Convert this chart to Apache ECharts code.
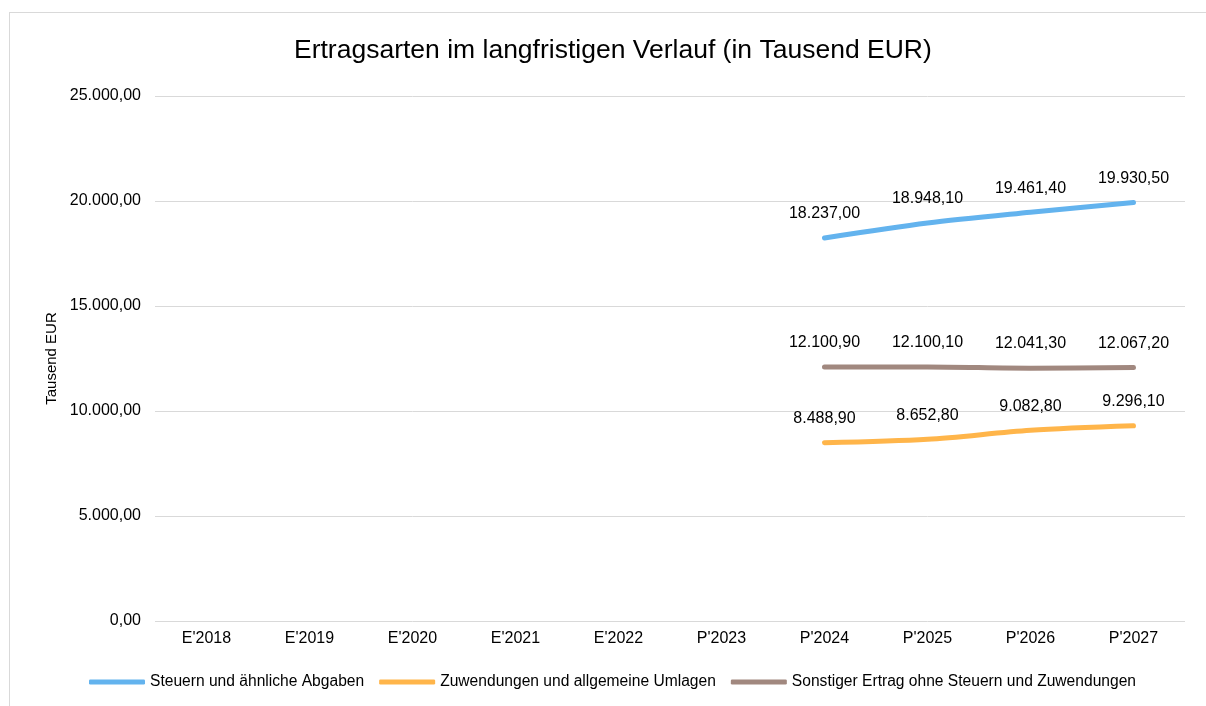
<!DOCTYPE html>
<html>
<head>
<meta charset="UTF-8">
<script type="text/javascript" src="https://cdn.jsdelivr.net/npm/echarts@6/dist/echarts.min.js"></script>
<title>Ertragsarten</title>
<style>
	body { margin:0; background:#fff; }
	#frame { position:absolute; left:9px; top:12px; width:1200px; height:700px; border:1px solid #d9d9d9; box-sizing:border-box; }
	#main { position:absolute; left:0; top:0; width:1206px; height:706px; }
</style>
</head>
<body>
	<div id="frame"></div>
	<div id="main"></div>
	<script type="text/javascript">
		var years = ["E'2018","E'2019","E'2020","E'2021","E'2022","P'2023","P'2024","P'2025","P'2026","P'2027"];
		var steuern = [null,null,null,null,null,null,18237.0,18948.1,19461.4,19930.5];
		var zuwendungen = [null,null,null,null,null,null,8488.9,8652.8,9082.8,9296.1];
		var sonstiger = [null,null,null,null,null,null,12100.9,12100.1,12041.3,12067.2];
		var names = ['Steuern und ähnliche Abgaben','Zuwendungen und allgemeine Umlagen','Sonstiger Ertrag ohne Steuern und Zuwendungen'];
		var colors = ['#63b3ee','#ffb54a','#a1887f'];

		// deutsches Zahlenformat 12.345,60
		function fmt(v) {
			var s = Math.abs(v).toFixed(2).split('.');
			var intPart = s[0].replace(/\B(?=(\d{3})+(?!\d))/g, '.');
			return (v < 0 ? '-' : '') + intPart + ',' + s[1];
		}

		var myChart = echarts.init(document.getElementById('main'));

		function line(name, data, color) {
			return {
				name: name,
				type: 'line',
				data: data,
				symbol: 'circle',
				symbolSize: 0.1,
				showSymbol: true,
				smooth: 0.3,
				lineStyle: { width: 5, color: color, cap: 'round' },
				itemStyle: { color: color },
				label: {
					show: true,
					position: 'top',
					distance: 16,
					color: '#000',
					fontSize: 16,
					fontFamily: 'Liberation Sans, Arial',
					formatter: function (p) { return fmt(p.value); }
				}
			};
		}

		var option = {
			animation: false,
			textStyle: { fontFamily: 'Liberation Sans, Arial' },
			title: {
				text: 'Ertragsarten im langfristigen Verlauf (in Tausend EUR)',
				left: 289,
				top: 32,
				textStyle: { fontSize: 26.5, fontWeight: 'normal', color: '#000' }
			},
			legend: {
				bottom: 11,
				left: 84,
				icon: 'roundRect',
				itemWidth: 56,
				itemHeight: 5,
				itemGap: 15,
				textStyle: { fontSize: 15.6, color: '#000' },
				data: names
			},
			grid: { left: 155, right: 21, top: 96, bottom: 85, containLabel: false },
			xAxis: {
				type: 'category',
				data: years,
				boundaryGap: true,
				axisLine: { show: false },
				axisTick: { show: false },
				axisLabel: { fontSize: 16, color: '#000', margin: 10 }
			},
			yAxis: {
				type: 'value',
				min: 0,
				max: 25000,
				interval: 5000,
				name: 'Tausend EUR',
				nameLocation: 'middle',
				nameGap: 95,
				nameTextStyle: { fontSize: 15, color: '#000' },
				axisLine: { show: false },
				axisTick: { show: false },
				axisLabel: { fontSize: 16, color: '#000', margin: 14, formatter: fmt },
				splitLine: { lineStyle: { color: '#d9d9d9', width: 1 } }
			},
			series: [
				line(names[0], steuern, colors[0]),
				line(names[1], zuwendungen, colors[1]),
				line(names[2], sonstiger, colors[2])
			]
		};
		myChart.setOption(option);
	</script>
</body>
</html>
